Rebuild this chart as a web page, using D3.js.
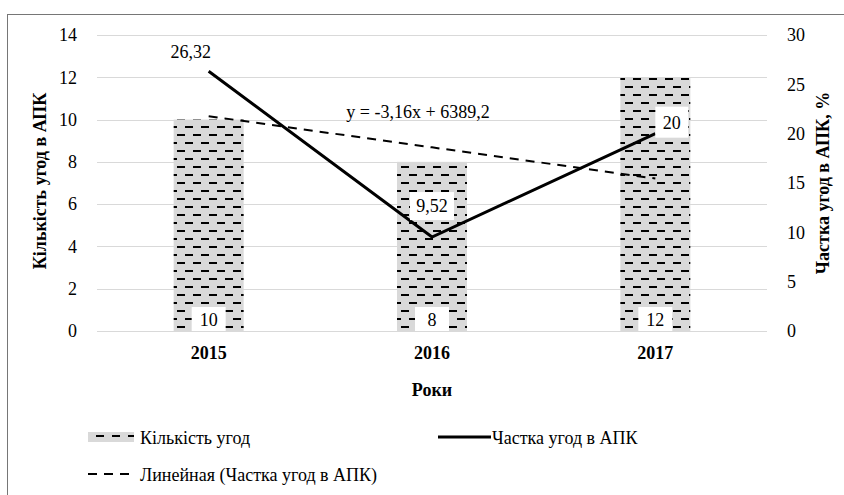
<!DOCTYPE html>
<html>
<head>
<meta charset="utf-8">
<script src="https://cdn.jsdelivr.net/npm/d3@7"></script>
<style>
body{margin:0;background:#fff;}
</style>
</head>
<body>
<div id="chart"></div>
<script>
// data
var years=['2015','2016','2017']
var deals=[10,8,12]
var share=[26.32,9.52,20]
var shareLabels=['26,32','9,52','20']
var leftTicks=[0,2,4,6,8,10,12,14]
var rightTicks=[0,5,10,15,20,25,30]

var FONT='"Liberation Serif", "Times New Roman", Tinos'
var FS=18
var W=844,H=495
var margin={left:97,right:77,top:35,bottom:164}
var plotW=W-margin.left-margin.right
var plotH=H-margin.top-margin.bottom

var svg=d3.select('#chart').append('svg')
    .attr('width',W).attr('height',H)

// pattern for bars
var defs=svg.append('defs')
var pat=defs.append('pattern')
    .attr('id','dash').attr('patternUnits','userSpaceOnUse')
    .attr('width',16).attr('height',16)
pat.append('rect').attr('width',16).attr('height',16).attr('fill','#d9d9d9')
pat.append('rect').attr('x',0).attr('y',3).attr('width',8).attr('height',2).attr('fill','#000')
pat.append('rect').attr('x',8).attr('y',11).attr('width',8).attr('height',2).attr('fill','#000')

// frame
svg.append('rect').attr('x',7.5).attr('y',14.5).attr('width',1000).attr('height',1000)
    .attr('fill','none').attr('stroke','#767676').attr('stroke-width',1)

var chart=svg.append('g').attr('transform',`translate(${margin.left},${margin.top})`)

var x=d3.scaleBand().domain(years).range([0,plotW])
var yL=d3.scaleLinear().domain([0,14]).range([plotH,0])
var yR=d3.scaleLinear().domain([0,30]).range([plotH,0])

// grid
chart.selectAll('.grid').data(leftTicks).enter().append('line')
    .attr('x1',0).attr('x2',plotW)
    .attr('y1',d=>Math.round(yL(d))+0.5).attr('y2',d=>Math.round(yL(d))+0.5)
    .attr('stroke','#d9d9d9').attr('stroke-width',1)

// axes
var axL=d3.axisLeft(yL).tickValues(leftTicks).tickSize(0).tickPadding(20)
var gL=chart.append('g').call(axL)
gL.select('.domain').remove()

var axR=d3.axisRight(yR).tickValues(rightTicks).tickSize(0).tickPadding(20)
var gR=chart.append('g').attr('transform',`translate(${plotW},0)`).call(axR)
gR.select('.domain').remove()

var axB=d3.axisBottom(x).tickSize(0).tickPadding(15)
var gB=chart.append('g').attr('transform',`translate(0,${plotH})`).call(axB)
gB.select('.domain').remove()
gB.selectAll('text').style('font-weight','bold')

;[gL,gR,gB].forEach(g=>g.attr('font-family',null).selectAll('text').style('font-family',FONT).style('font-size',FS+'px').attr('fill','#000'))

// bars
var bw=70
chart.selectAll('.bar').data(deals).enter().append('rect')
    .attr('x',(d,i)=>x(years[i])+x.bandwidth()/2-bw/2)
    .attr('y',d=>yL(d))
    .attr('width',bw)
    .attr('height',d=>plotH-yL(d))
    .attr('fill','url(#dash)')

function txt(parent,xx,yy,s,anchor,bold){
    return parent.append('text').attr('x',xx).attr('y',yy)
        .attr('text-anchor',anchor||'start').style('font-family',FONT)
        .style('font-size',FS+'px').style('font-weight',bold?'bold':'normal').attr('fill','#000').text(s)
}

// bar labels
deals.forEach(function(d,i){
    var cx=x(years[i])+x.bandwidth()/2
    chart.append('rect').attr('x',cx-17).attr('y',plotH-24).attr('width',34).attr('height',24).attr('fill','#fff')
    txt(chart,cx,plotH-5,d,'middle')
})

// trend line (least squares on share)
var xs=[0,1,2]
var mx=d3.mean(xs),my=d3.mean(share)
var slope=d3.sum(xs,(v,i)=>(v-mx)*(share[i]-my))/d3.sum(xs,v=>(v-mx)*(v-mx))
var icpt=my-slope*mx
var trend=xs.map(v=>icpt+slope*v)
var line=d3.line().x((d,i)=>x(years[i])+x.bandwidth()/2).y(d=>yR(d))
chart.append('path').attr('d',line(trend)).attr('fill','none')
    .attr('stroke','#000').attr('stroke-width',2).attr('stroke-dasharray','9,7')

// share line
chart.append('path').attr('d',line(share)).attr('fill','none')
    .attr('stroke','#000').attr('stroke-width',3)

// share labels
var c0=x(years[0])+x.bandwidth()/2
txt(chart,c0-18,yR(share[0])-13,shareLabels[0],'middle')
var c1=x(years[1])+x.bandwidth()/2
chart.append('rect').attr('x',c1-22).attr('y',yR(share[1])-45).attr('width',44).attr('height',28).attr('fill','#fff')
txt(chart,c1,yR(share[1])-25,shareLabels[1],'middle')
var c2=x(years[2])+x.bandwidth()/2
chart.append('rect').attr('x',c2).attr('y',yR(share[2])-27).attr('width',33).attr('height',31).attr('fill','#fff')
txt(chart,c2+16.5,yR(share[2])-5,shareLabels[2],'middle')

// equation
txt(chart,plotW/2-14,83,'y = -3,16x + 6389,2','middle')

// axis titles
txt(svg,0,0,'Кількість угод в АПК','middle',true)
    .attr('transform',`translate(46,${margin.top+plotH/2-2}) rotate(-90)`)
txt(svg,0,0,'Частка угод в АПК, %','middle',true)
    .attr('transform',`translate(829,${margin.top+plotH/2}) rotate(-90)`)
txt(svg,margin.left+plotW/2,396,'Роки','middle',true)

// legend
var lg=svg.append('g')
lg.append('rect').attr('x',88).attr('y',432).attr('width',46).attr('height',10).attr('fill','url(#dash)')
txt(lg,140,444,'Кількість угод')
lg.append('line').attr('x1',438).attr('x2',491).attr('y1',437).attr('y2',437).attr('stroke','#000').attr('stroke-width',3)
txt(lg,492,444,'Частка угод в АПК')
lg.append('line').attr('x1',88).attr('x2',134).attr('y1',474).attr('y2',474).attr('stroke','#000').attr('stroke-width',2).attr('stroke-dasharray','9,7')
txt(lg,140,481,'Линейная (Частка угод в АПК)')
</script>
</body>
</html>
